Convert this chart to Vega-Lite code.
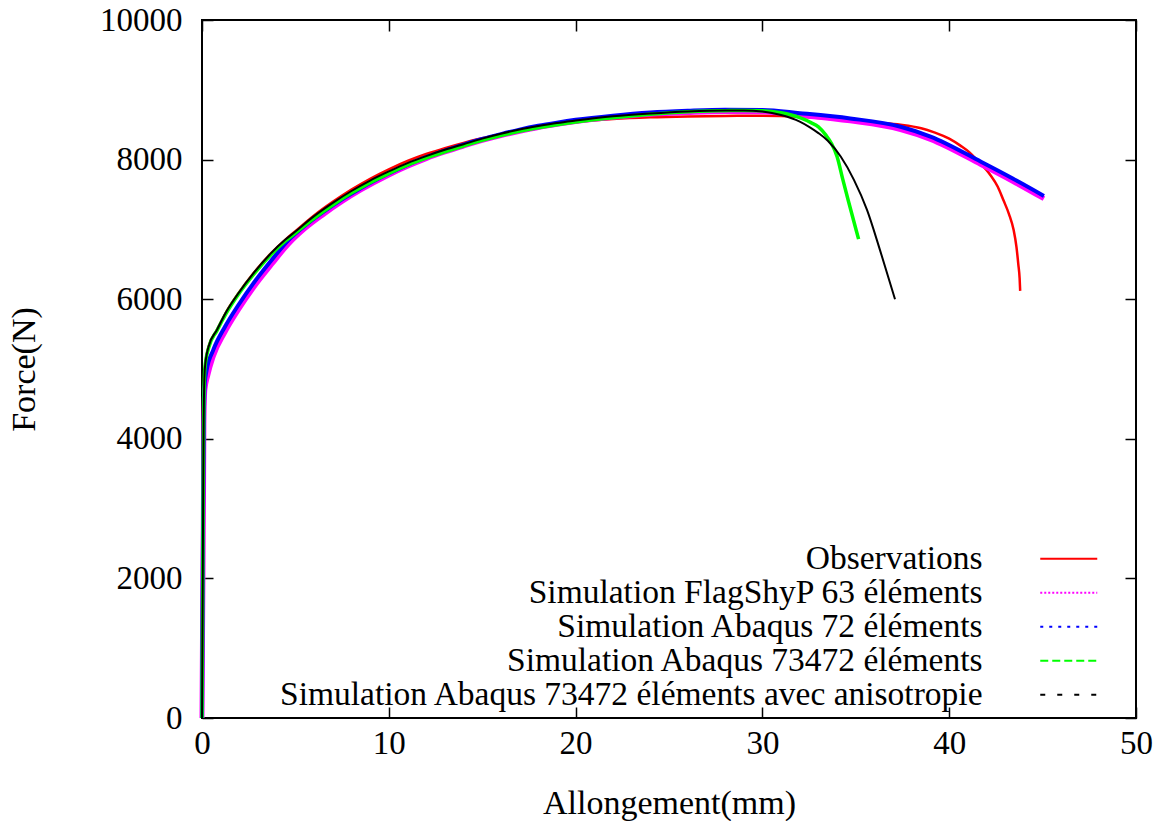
{
  "$schema": "https://vega.github.io/schema/vega-lite/v6.json",
  "width": 934,
  "height": 698,
  "autosize": {"type": "none"},
  "padding": {"left": 202, "top": 20, "right": 26, "bottom": 103},
  "background": "white",
  "config": {
    "view": {"stroke": "black", "strokeWidth": 2},
    "font": "Liberation Serif",
    "axis": {
      "grid": false,
      "domain": false,
      "tickSize": -11,
      "tickColor": "black",
      "tickWidth": 1.5,
      "labelFont": "Liberation Serif",
      "labelFontSize": 33,
      "labelColor": "black",
      "labelFlush": false,
      "labelOverlap": false,
      "titleFont": "Liberation Serif",
      "titleFontSize": 34,
      "titleFontWeight": "normal",
      "titleColor": "black"
    }
  },
  "data": {
    "values": [
      {"s": "Observations", "x": 0, "y": 0},
      {"s": "Observations", "x": 0.03, "y": 1500},
      {"s": "Observations", "x": 0.06, "y": 3000},
      {"s": "Observations", "x": 0.09, "y": 4300},
      {"s": "Observations", "x": 0.15, "y": 5000},
      {"s": "Observations", "x": 0.35, "y": 5320},
      {"s": "Observations", "x": 0.8, "y": 5560},
      {"s": "Observations", "x": 1.3, "y": 5820},
      {"s": "Observations", "x": 1.95, "y": 6085},
      {"s": "Observations", "x": 2.75, "y": 6370},
      {"s": "Observations", "x": 3.7, "y": 6660},
      {"s": "Observations", "x": 4.45, "y": 6850},
      {"s": "Observations", "x": 5, "y": 6975},
      {"s": "Observations", "x": 6, "y": 7200},
      {"s": "Observations", "x": 7, "y": 7395},
      {"s": "Observations", "x": 8, "y": 7570},
      {"s": "Observations", "x": 9, "y": 7725},
      {"s": "Observations", "x": 10, "y": 7860},
      {"s": "Observations", "x": 11, "y": 7980},
      {"s": "Observations", "x": 12, "y": 8080},
      {"s": "Observations", "x": 13, "y": 8165},
      {"s": "Observations", "x": 14, "y": 8240},
      {"s": "Observations", "x": 15, "y": 8305},
      {"s": "Observations", "x": 16, "y": 8365},
      {"s": "Observations", "x": 17, "y": 8415},
      {"s": "Observations", "x": 18, "y": 8460},
      {"s": "Observations", "x": 19, "y": 8500},
      {"s": "Observations", "x": 20, "y": 8535},
      {"s": "Observations", "x": 22, "y": 8580},
      {"s": "Observations", "x": 24, "y": 8605},
      {"s": "Observations", "x": 26, "y": 8618},
      {"s": "Observations", "x": 28, "y": 8625},
      {"s": "Observations", "x": 30, "y": 8628},
      {"s": "Observations", "x": 32, "y": 8615},
      {"s": "Observations", "x": 34, "y": 8575},
      {"s": "Observations", "x": 36, "y": 8530},
      {"s": "Observations", "x": 37.4, "y": 8500},
      {"s": "Observations", "x": 38.5, "y": 8450},
      {"s": "Observations", "x": 39.2, "y": 8390},
      {"s": "Observations", "x": 40, "y": 8300},
      {"s": "Observations", "x": 40.6, "y": 8200},
      {"s": "Observations", "x": 41.1, "y": 8100},
      {"s": "Observations", "x": 41.5, "y": 7990},
      {"s": "Observations", "x": 42.2, "y": 7780},
      {"s": "Observations", "x": 42.6, "y": 7610},
      {"s": "Observations", "x": 42.9, "y": 7420},
      {"s": "Observations", "x": 43.2, "y": 7220},
      {"s": "Observations", "x": 43.45, "y": 6990},
      {"s": "Observations", "x": 43.6, "y": 6750},
      {"s": "Observations", "x": 43.7, "y": 6500},
      {"s": "Observations", "x": 43.77, "y": 6300},
      {"s": "Observations", "x": 43.8, "y": 6120},

      {"s": "Simulation FlagShyP 63 éléments", "x": 0, "y": 0},
      {"s": "Simulation FlagShyP 63 éléments", "x": 0.03, "y": 1300},
      {"s": "Simulation FlagShyP 63 éléments", "x": 0.05, "y": 2000},
      {"s": "Simulation FlagShyP 63 éléments", "x": 0.08, "y": 3200},
      {"s": "Simulation FlagShyP 63 éléments", "x": 0.1, "y": 4200},
      {"s": "Simulation FlagShyP 63 éléments", "x": 0.15, "y": 4700},
      {"s": "Simulation FlagShyP 63 éléments", "x": 0.3, "y": 4900},
      {"s": "Simulation FlagShyP 63 éléments", "x": 0.6, "y": 5180},
      {"s": "Simulation FlagShyP 63 éléments", "x": 1.23, "y": 5530},
      {"s": "Simulation FlagShyP 63 éléments", "x": 1.95, "y": 5850},
      {"s": "Simulation FlagShyP 63 éléments", "x": 2.75, "y": 6165},
      {"s": "Simulation FlagShyP 63 éléments", "x": 3.73, "y": 6500},
      {"s": "Simulation FlagShyP 63 éléments", "x": 4.63, "y": 6790},
      {"s": "Simulation FlagShyP 63 éléments", "x": 5.5, "y": 7010},
      {"s": "Simulation FlagShyP 63 éléments", "x": 6.5, "y": 7215},
      {"s": "Simulation FlagShyP 63 éléments", "x": 7.5, "y": 7400},
      {"s": "Simulation FlagShyP 63 éléments", "x": 8.5, "y": 7565},
      {"s": "Simulation FlagShyP 63 éléments", "x": 10, "y": 7780},
      {"s": "Simulation FlagShyP 63 éléments", "x": 11, "y": 7905},
      {"s": "Simulation FlagShyP 63 éléments", "x": 12, "y": 8015},
      {"s": "Simulation FlagShyP 63 éléments", "x": 13, "y": 8110},
      {"s": "Simulation FlagShyP 63 éléments", "x": 14, "y": 8195},
      {"s": "Simulation FlagShyP 63 éléments", "x": 15, "y": 8275},
      {"s": "Simulation FlagShyP 63 éléments", "x": 16, "y": 8345},
      {"s": "Simulation FlagShyP 63 éléments", "x": 17, "y": 8405},
      {"s": "Simulation FlagShyP 63 éléments", "x": 18, "y": 8460},
      {"s": "Simulation FlagShyP 63 éléments", "x": 19, "y": 8505},
      {"s": "Simulation FlagShyP 63 éléments", "x": 20, "y": 8545},
      {"s": "Simulation FlagShyP 63 éléments", "x": 22, "y": 8605},
      {"s": "Simulation FlagShyP 63 éléments", "x": 24, "y": 8650},
      {"s": "Simulation FlagShyP 63 éléments", "x": 26, "y": 8675},
      {"s": "Simulation FlagShyP 63 éléments", "x": 28, "y": 8690},
      {"s": "Simulation FlagShyP 63 éléments", "x": 30, "y": 8685},
      {"s": "Simulation FlagShyP 63 éléments", "x": 32, "y": 8635},
      {"s": "Simulation FlagShyP 63 éléments", "x": 34.7, "y": 8555},
      {"s": "Simulation FlagShyP 63 éléments", "x": 37.4, "y": 8430},
      {"s": "Simulation FlagShyP 63 éléments", "x": 39, "y": 8290},
      {"s": "Simulation FlagShyP 63 éléments", "x": 41.7, "y": 7930},
      {"s": "Simulation FlagShyP 63 éléments", "x": 43.4, "y": 7690},
      {"s": "Simulation FlagShyP 63 éléments", "x": 45.07, "y": 7440},

      {"s": "Simulation Abaqus 72 éléments", "x": 0, "y": 0},
      {"s": "Simulation Abaqus 72 éléments", "x": 0.03, "y": 1500},
      {"s": "Simulation Abaqus 72 éléments", "x": 0.06, "y": 3000},
      {"s": "Simulation Abaqus 72 éléments", "x": 0.1, "y": 4300},
      {"s": "Simulation Abaqus 72 éléments", "x": 0.15, "y": 4800},
      {"s": "Simulation Abaqus 72 éléments", "x": 0.25, "y": 4985},
      {"s": "Simulation Abaqus 72 éléments", "x": 0.6, "y": 5270},
      {"s": "Simulation Abaqus 72 éléments", "x": 1.23, "y": 5605},
      {"s": "Simulation Abaqus 72 éléments", "x": 1.95, "y": 5917},
      {"s": "Simulation Abaqus 72 éléments", "x": 2.75, "y": 6227},
      {"s": "Simulation Abaqus 72 éléments", "x": 3.73, "y": 6562},
      {"s": "Simulation Abaqus 72 éléments", "x": 4.63, "y": 6848},
      {"s": "Simulation Abaqus 72 éléments", "x": 5.5, "y": 7050},
      {"s": "Simulation Abaqus 72 éléments", "x": 6.5, "y": 7250},
      {"s": "Simulation Abaqus 72 éléments", "x": 7.5, "y": 7430},
      {"s": "Simulation Abaqus 72 éléments", "x": 8.5, "y": 7590},
      {"s": "Simulation Abaqus 72 éléments", "x": 10, "y": 7800},
      {"s": "Simulation Abaqus 72 éléments", "x": 11, "y": 7925},
      {"s": "Simulation Abaqus 72 éléments", "x": 12, "y": 8035},
      {"s": "Simulation Abaqus 72 éléments", "x": 13, "y": 8130},
      {"s": "Simulation Abaqus 72 éléments", "x": 14, "y": 8215},
      {"s": "Simulation Abaqus 72 éléments", "x": 15, "y": 8295},
      {"s": "Simulation Abaqus 72 éléments", "x": 16, "y": 8365},
      {"s": "Simulation Abaqus 72 éléments", "x": 17, "y": 8430},
      {"s": "Simulation Abaqus 72 éléments", "x": 18, "y": 8485},
      {"s": "Simulation Abaqus 72 éléments", "x": 19, "y": 8530},
      {"s": "Simulation Abaqus 72 éléments", "x": 20, "y": 8570},
      {"s": "Simulation Abaqus 72 éléments", "x": 22, "y": 8630},
      {"s": "Simulation Abaqus 72 éléments", "x": 24, "y": 8675},
      {"s": "Simulation Abaqus 72 éléments", "x": 26, "y": 8700},
      {"s": "Simulation Abaqus 72 éléments", "x": 28, "y": 8715},
      {"s": "Simulation Abaqus 72 éléments", "x": 30, "y": 8710},
      {"s": "Simulation Abaqus 72 éléments", "x": 32, "y": 8665},
      {"s": "Simulation Abaqus 72 éléments", "x": 34.7, "y": 8590},
      {"s": "Simulation Abaqus 72 éléments", "x": 37.4, "y": 8470},
      {"s": "Simulation Abaqus 72 éléments", "x": 39, "y": 8330},
      {"s": "Simulation Abaqus 72 éléments", "x": 41.7, "y": 7970},
      {"s": "Simulation Abaqus 72 éléments", "x": 43.4, "y": 7730},
      {"s": "Simulation Abaqus 72 éléments", "x": 45.07, "y": 7480},

      {"s": "Simulation Abaqus 73472 éléments", "x": 0, "y": 0},
      {"s": "Simulation Abaqus 73472 éléments", "x": 0.03, "y": 1500},
      {"s": "Simulation Abaqus 73472 éléments", "x": 0.06, "y": 3000},
      {"s": "Simulation Abaqus 73472 éléments", "x": 0.09, "y": 4300},
      {"s": "Simulation Abaqus 73472 éléments", "x": 0.15, "y": 5000},
      {"s": "Simulation Abaqus 73472 éléments", "x": 0.35, "y": 5300},
      {"s": "Simulation Abaqus 73472 éléments", "x": 0.8, "y": 5550},
      {"s": "Simulation Abaqus 73472 éléments", "x": 1.3, "y": 5800},
      {"s": "Simulation Abaqus 73472 éléments", "x": 1.95, "y": 6070},
      {"s": "Simulation Abaqus 73472 éléments", "x": 2.75, "y": 6350},
      {"s": "Simulation Abaqus 73472 éléments", "x": 3.7, "y": 6640},
      {"s": "Simulation Abaqus 73472 éléments", "x": 4.45, "y": 6830},
      {"s": "Simulation Abaqus 73472 éléments", "x": 5, "y": 6945},
      {"s": "Simulation Abaqus 73472 éléments", "x": 6, "y": 7160},
      {"s": "Simulation Abaqus 73472 éléments", "x": 7, "y": 7350},
      {"s": "Simulation Abaqus 73472 éléments", "x": 8, "y": 7520},
      {"s": "Simulation Abaqus 73472 éléments", "x": 9, "y": 7670},
      {"s": "Simulation Abaqus 73472 éléments", "x": 10, "y": 7800},
      {"s": "Simulation Abaqus 73472 éléments", "x": 11, "y": 7920},
      {"s": "Simulation Abaqus 73472 éléments", "x": 12, "y": 8020},
      {"s": "Simulation Abaqus 73472 éléments", "x": 13, "y": 8110},
      {"s": "Simulation Abaqus 73472 éléments", "x": 14, "y": 8195},
      {"s": "Simulation Abaqus 73472 éléments", "x": 15, "y": 8275},
      {"s": "Simulation Abaqus 73472 éléments", "x": 16, "y": 8345},
      {"s": "Simulation Abaqus 73472 éléments", "x": 17, "y": 8405},
      {"s": "Simulation Abaqus 73472 éléments", "x": 18, "y": 8455},
      {"s": "Simulation Abaqus 73472 éléments", "x": 19, "y": 8500},
      {"s": "Simulation Abaqus 73472 éléments", "x": 20, "y": 8540},
      {"s": "Simulation Abaqus 73472 éléments", "x": 22, "y": 8600},
      {"s": "Simulation Abaqus 73472 éléments", "x": 24, "y": 8650},
      {"s": "Simulation Abaqus 73472 éléments", "x": 26, "y": 8685},
      {"s": "Simulation Abaqus 73472 éléments", "x": 28, "y": 8700},
      {"s": "Simulation Abaqus 73472 éléments", "x": 29, "y": 8705},
      {"s": "Simulation Abaqus 73472 éléments", "x": 30, "y": 8700},
      {"s": "Simulation Abaqus 73472 éléments", "x": 31, "y": 8670},
      {"s": "Simulation Abaqus 73472 éléments", "x": 32, "y": 8600},
      {"s": "Simulation Abaqus 73472 éléments", "x": 32.6, "y": 8530},
      {"s": "Simulation Abaqus 73472 éléments", "x": 33, "y": 8470},
      {"s": "Simulation Abaqus 73472 éléments", "x": 33.4, "y": 8350},
      {"s": "Simulation Abaqus 73472 éléments", "x": 33.7, "y": 8230},
      {"s": "Simulation Abaqus 73472 éléments", "x": 34, "y": 8040},
      {"s": "Simulation Abaqus 73472 éléments", "x": 34.3, "y": 7720},
      {"s": "Simulation Abaqus 73472 éléments", "x": 34.6, "y": 7410},
      {"s": "Simulation Abaqus 73472 éléments", "x": 34.9, "y": 7110},
      {"s": "Simulation Abaqus 73472 éléments", "x": 35.15, "y": 6860},

      {"s": "Simulation Abaqus 73472 éléments avec anisotropie", "x": 0, "y": 0},
      {"s": "Simulation Abaqus 73472 éléments avec anisotropie", "x": 0.03, "y": 1500},
      {"s": "Simulation Abaqus 73472 éléments avec anisotropie", "x": 0.06, "y": 3000},
      {"s": "Simulation Abaqus 73472 éléments avec anisotropie", "x": 0.09, "y": 4300},
      {"s": "Simulation Abaqus 73472 éléments avec anisotropie", "x": 0.15, "y": 5000},
      {"s": "Simulation Abaqus 73472 éléments avec anisotropie", "x": 0.35, "y": 5320},
      {"s": "Simulation Abaqus 73472 éléments avec anisotropie", "x": 0.8, "y": 5560},
      {"s": "Simulation Abaqus 73472 éléments avec anisotropie", "x": 1.3, "y": 5820},
      {"s": "Simulation Abaqus 73472 éléments avec anisotropie", "x": 1.95, "y": 6085},
      {"s": "Simulation Abaqus 73472 éléments avec anisotropie", "x": 2.75, "y": 6370},
      {"s": "Simulation Abaqus 73472 éléments avec anisotropie", "x": 3.7, "y": 6660},
      {"s": "Simulation Abaqus 73472 éléments avec anisotropie", "x": 4.45, "y": 6850},
      {"s": "Simulation Abaqus 73472 éléments avec anisotropie", "x": 5, "y": 6970},
      {"s": "Simulation Abaqus 73472 éléments avec anisotropie", "x": 6, "y": 7190},
      {"s": "Simulation Abaqus 73472 éléments avec anisotropie", "x": 7, "y": 7380},
      {"s": "Simulation Abaqus 73472 éléments avec anisotropie", "x": 8, "y": 7550},
      {"s": "Simulation Abaqus 73472 éléments avec anisotropie", "x": 9, "y": 7700},
      {"s": "Simulation Abaqus 73472 éléments avec anisotropie", "x": 10, "y": 7830},
      {"s": "Simulation Abaqus 73472 éléments avec anisotropie", "x": 11, "y": 7950},
      {"s": "Simulation Abaqus 73472 éléments avec anisotropie", "x": 12, "y": 8050},
      {"s": "Simulation Abaqus 73472 éléments avec anisotropie", "x": 13, "y": 8140},
      {"s": "Simulation Abaqus 73472 éléments avec anisotropie", "x": 14, "y": 8220},
      {"s": "Simulation Abaqus 73472 éléments avec anisotropie", "x": 15, "y": 8300},
      {"s": "Simulation Abaqus 73472 éléments avec anisotropie", "x": 16, "y": 8370},
      {"s": "Simulation Abaqus 73472 éléments avec anisotropie", "x": 17, "y": 8430},
      {"s": "Simulation Abaqus 73472 éléments avec anisotropie", "x": 18, "y": 8480},
      {"s": "Simulation Abaqus 73472 éléments avec anisotropie", "x": 19, "y": 8525},
      {"s": "Simulation Abaqus 73472 éléments avec anisotropie", "x": 20, "y": 8560},
      {"s": "Simulation Abaqus 73472 éléments avec anisotropie", "x": 22, "y": 8620},
      {"s": "Simulation Abaqus 73472 éléments avec anisotropie", "x": 24, "y": 8660},
      {"s": "Simulation Abaqus 73472 éléments avec anisotropie", "x": 26, "y": 8690},
      {"s": "Simulation Abaqus 73472 éléments avec anisotropie", "x": 28, "y": 8705},
      {"s": "Simulation Abaqus 73472 éléments avec anisotropie", "x": 29, "y": 8705},
      {"s": "Simulation Abaqus 73472 éléments avec anisotropie", "x": 30, "y": 8690},
      {"s": "Simulation Abaqus 73472 éléments avec anisotropie", "x": 31, "y": 8640},
      {"s": "Simulation Abaqus 73472 éléments avec anisotropie", "x": 32, "y": 8545},
      {"s": "Simulation Abaqus 73472 éléments avec anisotropie", "x": 32.5, "y": 8470},
      {"s": "Simulation Abaqus 73472 éléments avec anisotropie", "x": 33, "y": 8380},
      {"s": "Simulation Abaqus 73472 éléments avec anisotropie", "x": 33.5, "y": 8270},
      {"s": "Simulation Abaqus 73472 éléments avec anisotropie", "x": 34.2, "y": 8040},
      {"s": "Simulation Abaqus 73472 éléments avec anisotropie", "x": 34.9, "y": 7710},
      {"s": "Simulation Abaqus 73472 éléments avec anisotropie", "x": 35.6, "y": 7280},
      {"s": "Simulation Abaqus 73472 éléments avec anisotropie", "x": 36.3, "y": 6700},
      {"s": "Simulation Abaqus 73472 éléments avec anisotropie", "x": 37.1, "y": 6000}
    ]
  },
  "encoding": {
    "color": {
      "field": "s",
      "type": "nominal",
      "scale": {
        "domain": ["Observations", "Simulation FlagShyP 63 éléments", "Simulation Abaqus 72 éléments", "Simulation Abaqus 73472 éléments", "Simulation Abaqus 73472 éléments avec anisotropie"],
        "range": ["#ff0000", "#ff00ff", "#0000ff", "#00ff00", "#000000"]
      },
      "legend": {
        "orient": "none",
        "legendX": 850,
        "legendY": 522,
        "title": null,
        "padding": 0,
        "symbolType": "M-3,0L3,0",
        "symbolSize": 361,
        "symbolStrokeWidth": 2,
        "labelAlign": "right",
        "labelOffset": -103,
        "labelFont": "Liberation Serif",
        "labelFontSize": 33.5,
        "labelColor": "black",
        "labelLimit": 1000,
        "rowPadding": -1.3,
        "encode": {
          "symbols": {
            "update": {
              "strokeDash": {"signal": "datum.value == 'Observations' ? [1, 0] : datum.value == 'Simulation FlagShyP 63 éléments' ? [2, 2] : datum.value == 'Simulation Abaqus 72 éléments' ? [3, 6] : datum.value == 'Simulation Abaqus 73472 éléments' ? [8, 4] : [5, 12]"}
            }
          }
        }
      }
    }
  },
  "layer": [
    {
      "transform": [{"filter": "datum.s == 'Observations'"}],
      "mark": {"type": "line", "strokeWidth": 2.5, "interpolate": "monotone"},
      "encoding": {
        "x": {
          "field": "x", "type": "quantitative",
          "scale": {"domain": [0, 50], "nice": false},
          "axis": {"orient": "bottom", "values": [0, 10, 20, 30, 40, 50], "format": "d", "title": "Allongement(mm)", "labelPadding": 20, "titlePadding": 26}
        },
        "y": {
          "field": "y", "type": "quantitative",
          "scale": {"domain": [0, 10000], "nice": false},
          "axis": {"orient": "left", "values": [0, 2000, 4000, 6000, 8000, 10000], "format": "d", "title": "Force(N)", "labelPadding": 31, "titlePadding": 58}
        }
      }
    },
    {
      "transform": [{"filter": "datum.s == 'Simulation FlagShyP 63 éléments'"}],
      "mark": {"type": "line", "strokeWidth": 5, "interpolate": "monotone"},
      "encoding": {
        "x": {
          "field": "x", "type": "quantitative",
          "scale": {"domain": [0, 50], "nice": false},
          "axis": {"orient": "top", "values": [0, 10, 20, 30, 40, 50], "labels": false, "title": null}
        },
        "y": {
          "field": "y", "type": "quantitative",
          "scale": {"domain": [0, 10000], "nice": false},
          "axis": {"orient": "right", "values": [0, 2000, 4000, 6000, 8000, 10000], "labels": false, "title": null}
        }
      }
    },
    {
      "transform": [{"filter": "datum.s == 'Simulation Abaqus 72 éléments'"}],
      "mark": {"type": "line", "strokeWidth": 4, "interpolate": "monotone"},
      "encoding": {
        "x": {"field": "x", "type": "quantitative", "scale": {"domain": [0, 50], "nice": false}, "axis": null},
        "y": {"field": "y", "type": "quantitative", "scale": {"domain": [0, 10000], "nice": false}, "axis": null}
      }
    },
    {
      "transform": [{"filter": "datum.s == 'Simulation Abaqus 73472 éléments'"}],
      "mark": {"type": "line", "strokeWidth": 3.5, "interpolate": "monotone"},
      "encoding": {
        "x": {"field": "x", "type": "quantitative", "scale": {"domain": [0, 50], "nice": false}, "axis": null},
        "y": {"field": "y", "type": "quantitative", "scale": {"domain": [0, 10000], "nice": false}, "axis": null}
      }
    },
    {
      "transform": [{"filter": "datum.s == 'Simulation Abaqus 73472 éléments avec anisotropie'"}],
      "mark": {"type": "line", "strokeWidth": 2, "interpolate": "monotone"},
      "encoding": {
        "x": {"field": "x", "type": "quantitative", "scale": {"domain": [0, 50], "nice": false}, "axis": null},
        "y": {"field": "y", "type": "quantitative", "scale": {"domain": [0, 10000], "nice": false}, "axis": null}
      }
    }
  ],
  "resolve": {"axis": {"x": "independent", "y": "independent"}}
}
